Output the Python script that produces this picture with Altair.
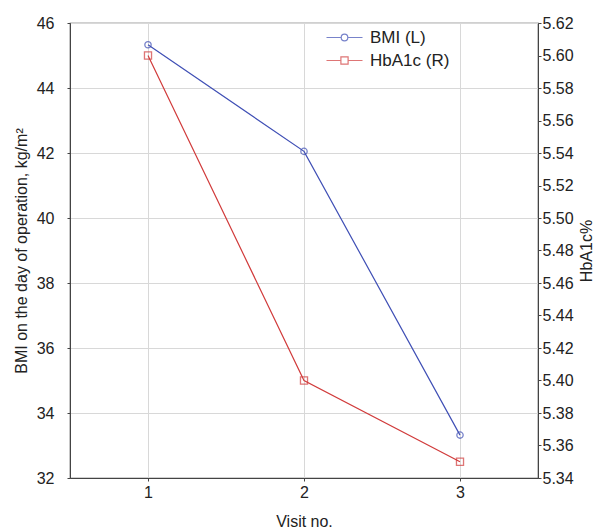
import altair as alt
import pandas as pd

visits = [1, 2, 3]
bmi = [45.33, 42.05, 33.32]
hba1c = [5.60, 5.40, 5.35]
series_names = ["BMI (L)", "HbA1c (R)"]
colors = ["#3f4fb5", "#d13b3b"]

df_bmi = pd.DataFrame({"visit": visits, "value": bmi, "series": series_names[0]})
df_hba = pd.DataFrame({"visit": visits, "value": hba1c, "series": series_names[1]})
df_leg = pd.DataFrame({"visit": [1, 1], "value": [40, 40], "series": series_names})

FONT = "Liberation Sans"

x_enc = alt.X("visit:Q", scale=alt.Scale(domain=[0.5, 3.5], nice=False, zero=False),
              axis=alt.Axis(values=[1, 2, 3], format="d", title="Visit no.", grid=True,
                            titlePadding=13))

circle_path = "M-3,0L-0.55,0M0.55,0L3,0M-0.55,0A0.55,0.55 0 1,1 0.55,0A0.55,0.55 0 1,1 -0.55,0"
square_path = "M-3,0L-0.6,0M0.6,0L3,0M-0.6,-0.6L0.6,-0.6L0.6,0.6L-0.6,0.6Z"

legend = alt.Legend(
    title=None, orient="none", legendX=266, legendY=6,
    symbolSize=144, symbolStrokeWidth=1.2, labelFontSize=17, labelFont=FONT,
    labelColor="#222222", rowPadding=5, labelOffset=17,
)
color_scale = alt.Scale(domain=series_names, range=colors)
color_enc = alt.Color("series:N", scale=color_scale, legend=legend)
shape_legend = alt.Shape("series:N", scale=alt.Scale(domain=series_names, range=[circle_path, square_path]),
                         legend=legend)

y_bmi = alt.Y("value:Q", scale=alt.Scale(domain=[32, 46], nice=False, zero=False),
              axis=alt.Axis(values=list(range(32, 47, 2)), title="BMI on the day of operation, kg/m²",
                            grid=True, titlePadding=7, labelPadding=13))
y_hba = alt.Y("value:Q", scale=alt.Scale(domain=[5.34, 5.62], nice=False, zero=False),
              axis=alt.Axis(values=[round(5.34 + 0.02 * i, 2) for i in range(15)], format=".2f",
                            orient="right", title="HbA1c%", grid=False, titleAngle=270,
                            titleBaseline="top", titlePadding=5, labelPadding=1))

bmi_line = alt.Chart(df_bmi).mark_line(strokeWidth=1.2).encode(x=x_enc, y=y_bmi, color=color_enc)
bmi_pts = alt.Chart(df_bmi).mark_point(shape="circle", filled=False, size=40, strokeWidth=1.3).encode(
    x=x_enc, y=y_bmi, color=color_enc)
legend_layer = alt.Chart(df_leg).mark_point(filled=False, size=0, strokeWidth=1.2).encode(
    x=x_enc, y=y_bmi, color=color_enc, shape=shape_legend)
hba_line = alt.Chart(df_hba).mark_line(strokeWidth=1.2).encode(x=x_enc, y=y_hba, color=color_enc)
hba_pts = alt.Chart(df_hba).mark_point(shape="square", filled=False, size=50, strokeWidth=1.3).encode(
    x=x_enc, y=y_hba, color=color_enc)

chart = alt.layer(
    alt.layer(bmi_line, bmi_pts, legend_layer),
    alt.layer(hba_line, hba_pts),
).resolve_scale(y="independent").properties(
    width=468, height=455, padding={"top": 7, "left": 5, "right": 0, "bottom": 0}
).configure_view(stroke="#444444", strokeWidth=1.2).configure_axis(
    labelFont=FONT, titleFont=FONT, labelFontSize=16, titleFontSize=16,
    labelColor="#222222", titleColor="#222222", titleFontWeight="normal",
    domainColor="#444444", tickColor="#444444", tickSize=3, gridColor="#d8d8d8",
    labelPadding=3,
)

chart.save("out.html", embed_options={"renderer": "svg", "actions": False})
